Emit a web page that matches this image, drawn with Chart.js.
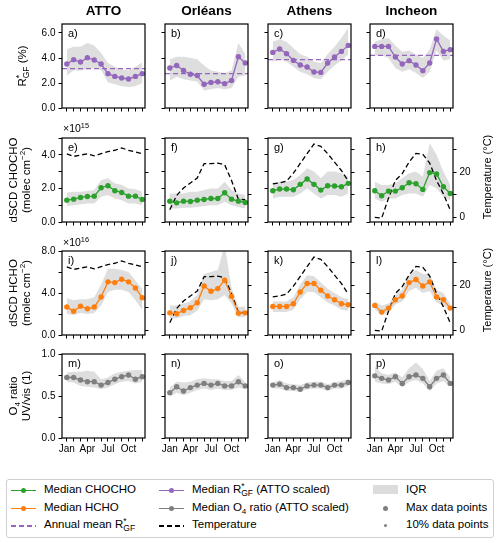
<!DOCTYPE html>
<html>
<head>
<meta charset="utf-8">
<script src="https://cdn.jsdelivr.net/npm/chart.js@4.4.1/dist/chart.umd.min.js"></script>
<style>
  body { margin: 0; width: 500px; height: 543px; position: relative; background: #fff; overflow: hidden;
         font-family: "Liberation Sans", Arial, sans-serif; color: #000; }
  .panel { position: absolute; }
  .txt { position: absolute; white-space: nowrap; }
  .rot { position: absolute; white-space: nowrap; text-align: center; font-size: 11.5px; line-height: 13px;
         transform: translate(-50%, -50%) rotate(-90deg); }
  sup, sub { font-size: 70%; line-height: 0; }
  .legend { position: absolute; left: 6px; top: 479px; width: 486px; height: 57px; border: 1px solid #d0d0d0;
            border-radius: 3px; font-size: 11.5px; }
  .lg { position: absolute; height: 16px; }
  .lg .h { position: absolute; left: 0; top: 8px; width: 25px; }
  .lg .t { position: absolute; left: 33px; top: 1px; white-space: nowrap; }
</style>
</head>
<body>
<script>
// months and ticks
const months = [1, 2, 3, 4, 5, 6, 7, 8, 9, 10, 11, 12];
const monthLabels = { 1: 'Jan', 4: 'Apr', 7: 'Jul', 10: 'Oct' };
const sites = ['ATTO', 'Orléans', 'Athens', 'Incheon'];

// R*GF (%)
const rgfAtto = [3.52, 3.87, 3.68, 4.03, 3.84, 3.52, 2.75, 2.53, 2.40, 2.32, 2.53, 2.75];
const rgfAttoHi = [4.7, 4.9, 4.9, 5.2, 5.0, 4.4, 3.6, 3.3, 3.1, 3.0, 3.3, 3.65];
const rgfAttoLo = [2.6, 3.0, 3.0, 3.1, 3.2, 3.05, 2.05, 1.9, 1.75, 1.68, 1.75, 2.0];
const rgfOrleans = [3.2, 3.4, 3.0, 2.7, 2.6, 1.9, 2.05, 2.1, 1.95, 2.2, 4.1, 3.6];
const rgfOrleansHi = [3.9, 4.1, 4.1, 4.0, 3.9, 3.4, 3.0, 2.9, 2.8, 3.0, 5.2, 4.3];
const rgfOrleansLo = [2.2, 2.5, 2.3, 2.2, 2.1, 1.4, 1.5, 1.6, 1.5, 1.6, 2.5, 2.6];
const rgfAthens = [4.45, 4.72, 4.35, 3.81, 3.44, 3.28, 2.88, 2.85, 3.6, 4.08, 4.53, 5.01];
const rgfAthensHi = [5.3, 5.5, 5.3, 4.8, 4.3, 4.1, 3.7, 3.6, 4.3, 4.9, 5.6, 6.4];
const rgfAthensLo = [3.7, 3.9, 3.7, 3.3, 2.9, 2.7, 2.4, 2.3, 2.9, 3.4, 3.8, 4.3];
const rgfIncheon = [4.93, 4.93, 4.93, 4.08, 3.52, 3.79, 3.44, 2.99, 3.6, 5.52, 4.53, 4.67];
const rgfIncheonHi = [5.3, 5.5, 5.6, 5.0, 4.5, 4.6, 4.3, 4.0, 4.7, 6.3, 5.8, 5.4];
const rgfIncheonLo = [4.2, 4.2, 4.0, 3.2, 2.9, 3.1, 2.8, 2.4, 2.9, 4.6, 3.8, 3.9];
const rgfMeans = [3.15, 2.75, 3.87, 4.21];

// dSCD CHOCHO (x1e15 molec cm-2)
const glyAtto = [1.30, 1.36, 1.46, 1.52, 1.54, 2.04, 2.16, 1.86, 1.76, 1.54, 1.54, 1.34];
const glyAttoHi = [1.75, 1.8, 1.8, 1.85, 1.9, 2.5, 2.6, 2.3, 2.2, 2.0, 1.95, 1.8];
const glyAttoLo = [0.95, 1.0, 1.05, 1.1, 1.1, 1.5, 1.6, 1.4, 1.3, 1.1, 1.1, 1.0];
const glyOrleans = [1.24, 1.14, 1.24, 1.22, 1.30, 1.34, 1.40, 1.40, 1.74, 1.36, 1.24, 1.16];
const glyOrleansHi = [1.7, 1.7, 1.7, 1.8, 1.8, 1.9, 2.0, 2.0, 2.4, 1.9, 1.7, 1.6];
const glyOrleansLo = [0.8, 0.8, 0.85, 0.85, 0.9, 0.95, 1.0, 1.0, 1.2, 1.0, 0.9, 0.8];
const glyAthens = [1.86, 1.96, 1.96, 1.92, 2.24, 2.56, 2.24, 1.90, 2.16, 2.14, 2.10, 2.30];
const glyAthensHi = [2.3, 2.4, 2.4, 2.5, 2.8, 3.2, 3.0, 2.6, 3.0, 3.0, 2.9, 2.7];
const glyAthensLo = [1.4, 1.5, 1.5, 1.5, 1.7, 2.0, 1.7, 1.4, 1.6, 1.6, 1.5, 1.7];
const glyIncheon = [1.86, 1.56, 1.84, 1.84, 2.04, 2.34, 2.28, 1.94, 2.94, 2.86, 2.10, 1.70];
const glyIncheonHi = [2.4, 2.2, 2.2, 2.3, 2.6, 2.9, 3.0, 2.7, 4.7, 4.0, 3.0, 2.2];
const glyIncheonLo = [1.4, 1.2, 1.4, 1.4, 1.6, 1.7, 1.7, 1.5, 2.2, 2.0, 1.5, 1.3];

// dSCD HCHO (x1e16 molec cm-2)
const hchoAtto = [2.66, 2.27, 2.75, 2.50, 2.66, 3.62, 5.06, 4.99, 5.31, 5.06, 4.48, 3.55];
const hchoAttoHi = [3.5, 3.3, 3.4, 3.4, 3.6, 4.8, 6.3, 6.3, 6.2, 6.0, 5.2, 4.4];
const hchoAttoLo = [2.0, 1.9, 2.1, 2.0, 2.1, 2.8, 4.1, 4.3, 4.3, 4.1, 3.3, 2.4];
const hchoOrleans = [2.11, 2.02, 2.34, 2.59, 3.07, 4.67, 4.16, 4.42, 5.22, 3.68, 2.08, 2.11];
const hchoOrleansHi = [2.8, 2.8, 3.0, 3.2, 3.8, 5.8, 6.0, 6.2, 8.6, 4.5, 2.7, 2.7];
const hchoOrleansLo = [1.6, 1.6, 1.8, 1.9, 2.3, 3.4, 3.3, 3.4, 3.8, 3.0, 1.7, 1.7];
const hchoAthens = [2.72, 2.72, 2.72, 2.98, 4.10, 4.90, 4.90, 4.26, 3.71, 3.36, 2.98, 2.88];
const hchoAthensHi = [3.2, 3.2, 3.2, 3.6, 4.8, 5.7, 5.6, 5.0, 4.4, 4.0, 3.6, 3.4];
const hchoAthensLo = [2.2, 2.2, 2.2, 2.4, 3.4, 4.1, 4.1, 3.6, 3.1, 2.8, 2.4, 2.3];
const hchoIncheon = [2.82, 2.18, 2.56, 3.36, 3.71, 4.99, 5.28, 4.67, 5.06, 3.62, 3.36, 2.56];
const hchoIncheonHi = [3.2, 2.8, 3.0, 3.8, 4.3, 5.7, 6.2, 5.8, 5.8, 4.3, 4.0, 3.0];
const hchoIncheonLo = [2.4, 1.9, 2.1, 2.9, 3.2, 4.2, 4.5, 4.0, 4.2, 3.1, 2.8, 2.2];

// O4 ratio UV/vis
const o4Atto = [0.72, 0.72, 0.69, 0.67, 0.67, 0.63, 0.66, 0.70, 0.73, 0.75, 0.70, 0.73];
const o4AttoHi = [0.78, 0.79, 0.79, 0.80, 0.79, 0.70, 0.72, 0.77, 0.79, 0.80, 0.81, 0.81];
const o4AttoLo = [0.67, 0.66, 0.62, 0.61, 0.60, 0.58, 0.60, 0.64, 0.67, 0.68, 0.65, 0.67];
const o4Orleans = [0.54, 0.61, 0.56, 0.60, 0.63, 0.65, 0.63, 0.65, 0.62, 0.62, 0.67, 0.62];
const o4OrleansHi = [0.60, 0.67, 0.66, 0.67, 0.70, 0.71, 0.70, 0.70, 0.68, 0.68, 0.75, 0.66];
const o4OrleansLo = [0.49, 0.54, 0.51, 0.54, 0.57, 0.59, 0.57, 0.59, 0.57, 0.57, 0.60, 0.58];
const o4Athens = [0.63, 0.64, 0.60, 0.60, 0.58, 0.62, 0.63, 0.63, 0.60, 0.63, 0.63, 0.66];
const o4AthensHi = [0.66, 0.69, 0.65, 0.64, 0.63, 0.66, 0.67, 0.67, 0.64, 0.66, 0.68, 0.70];
const o4AthensLo = [0.59, 0.59, 0.56, 0.56, 0.55, 0.58, 0.59, 0.59, 0.56, 0.59, 0.59, 0.62];
const o4Incheon = [0.74, 0.71, 0.69, 0.73, 0.65, 0.73, 0.75, 0.71, 0.61, 0.71, 0.75, 0.65];
const o4IncheonHi = [0.85, 0.77, 0.75, 0.78, 0.72, 0.83, 0.90, 0.82, 0.68, 0.80, 0.83, 0.72];
const o4IncheonLo = [0.67, 0.65, 0.64, 0.67, 0.60, 0.67, 0.69, 0.65, 0.56, 0.65, 0.68, 0.61];

// temperature (°C)
const tempAtto = [28.0, 26.9, 27.5, 28.0, 27.1, 28.1, 29.0, 29.6, 30.6, 29.6, 28.9, 28.0];
const tempOrleans = [3.4, 9.7, 13.0, 15.2, 17.4, 23.7, 23.7, 23.9, 23.2, 16.3, 8.0, 7.8];
const tempAthens = [14.8, 15.2, 16.0, 19.5, 23.8, 28.1, 32.3, 31.3, 28.1, 24.4, 20.7, 16.0];
const tempIncheon = [0.0, -0.3, 8.5, 16.3, 19.3, 24.4, 28.2, 27.8, 24.0, 16.3, 10.4, 3.3];

const C_GREEN = '#2ca02c', C_ORANGE = '#ff7f0e', C_PURPLE = '#9467bd', C_GRAY = '#7f7f7f';
const C_BAND = 'rgba(190,190,190,0.5)';
const FONT = '"Liberation Sans", Arial, sans-serif';

const colLeft = [62, 165, 268, 370];
const rowTop = [24, 138, 251, 354];
const panelW = 83, panelH = 84;
const PAD_L = 45, PAD_R = 30, PAD_T = 10, PAD_B = 20;
const X_MIN = 0.3, X_MAX = 12.4;

const rows = [
  { color: C_PURPLE, max: 6.72, ticks: [0, 1, 2, 3, 4, 5, 6], labels: [0, 2, 4, 6], dec: 1, temp: null,
    med: [rgfAtto, rgfOrleans, rgfAthens, rgfIncheon], hi: [rgfAttoHi, rgfOrleansHi, rgfAthensHi, rgfIncheonHi],
    lo: [rgfAttoLo, rgfOrleansLo, rgfAthensLo, rgfIncheonLo], mean: rgfMeans },
  { color: C_GREEN, max: 5, ticks: [0, 1, 2, 3, 4, 5], labels: [0, 2, 4], dec: 1,
    temp: [tempAtto, tempOrleans, tempAthens, tempIncheon],
    med: [glyAtto, glyOrleans, glyAthens, glyIncheon], hi: [glyAttoHi, glyOrleansHi, glyAthensHi, glyIncheonHi],
    lo: [glyAttoLo, glyOrleansLo, glyAthensLo, glyIncheonLo] },
  { color: C_ORANGE, max: 8, ticks: [0, 2, 4, 6, 8], labels: [0, 4, 8], dec: 1,
    temp: [tempAtto, tempOrleans, tempAthens, tempIncheon],
    med: [hchoAtto, hchoOrleans, hchoAthens, hchoIncheon], hi: [hchoAttoHi, hchoOrleansHi, hchoAthensHi, hchoIncheonHi],
    lo: [hchoAttoLo, hchoOrleansLo, hchoAthensLo, hchoIncheonLo] },
  { color: C_GRAY, max: 1, ticks: [0, 0.25, 0.5, 0.75, 1], labels: [0, 0.5, 1], dec: 1, temp: null,
    med: [o4Atto, o4Orleans, o4Athens, o4Incheon], hi: [o4AttoHi, o4OrleansHi, o4AthensHi, o4IncheonHi],
    lo: [o4AttoLo, o4OrleansLo, o4AthensLo, o4IncheonLo] }
];

function serie(arr) {
  return months.map((m, i) => ({ x: m, y: arr[i] }));
}

const framePlugin = {
  id: 'frame',
  afterDraw(chart) {
    const a = chart.chartArea, ctx = chart.ctx;
    ctx.save();
    ctx.strokeStyle = '#000';
    ctx.lineWidth = 1.2;
    ctx.strokeRect(a.left, a.top, a.right - a.left, a.bottom - a.top);
    ctx.restore();
  }
};

function tickGrid() {
  return { display: true, drawOnChartArea: false, drawTicks: true, tickLength: 3.5, tickColor: '#000', tickWidth: 1 };
}

function crearPanel(r, c) {
  const row = rows[r];
  const div = document.createElement('div');
  div.className = 'panel';
  div.style.left = (colLeft[c] - PAD_L) + 'px';
  div.style.top = (rowTop[r] - PAD_T) + 'px';
  div.style.width = (panelW + PAD_L + PAD_R) + 'px';
  div.style.height = (panelH + PAD_T + PAD_B) + 'px';
  const canvas = document.createElement('canvas');
  div.appendChild(canvas);
  document.body.appendChild(div);

  const datasets = [{
    data: serie(row.med[c]), borderColor: row.color, backgroundColor: row.color, borderWidth: 1.3,
    pointRadius: 2.7, pointBorderWidth: 0, pointBackgroundColor: row.color, fill: false, yAxisID: 'y'
  }];
  if (row.mean) {
    datasets.push({
      data: [{ x: X_MIN, y: row.mean[c] }, { x: X_MAX, y: row.mean[c] }], borderColor: C_PURPLE,
      borderWidth: 1.3, borderDash: [5, 3], pointRadius: 0, fill: false, yAxisID: 'y'
    });
  }
  if (row.temp) {
    datasets.push({
      data: serie(row.temp[c]), borderColor: '#000', borderWidth: 1.3, borderDash: [5, 3],
      pointRadius: 0, fill: false, yAxisID: 'y1'
    });
  }
  datasets.push({ data: serie(row.hi[c]), borderWidth: 0, pointRadius: 0, fill: false, yAxisID: 'y' });
  datasets.push({
    data: serie(row.lo[c]), borderWidth: 0, pointRadius: 0, fill: '-1', backgroundColor: C_BAND, yAxisID: 'y'
  });

  const tickFont = { family: FONT, size: 10 };
  const scales = {
    x: {
      type: 'linear', min: X_MIN, max: X_MAX, position: 'bottom',
      afterBuildTicks: s => { s.ticks = months.map(v => ({ value: v })); },
      afterFit: s => { s.height = PAD_B; },
      ticks: {
        autoSkip: false, maxRotation: 0, padding: 2, color: '#000', font: tickFont,
        callback: v => (r === 3 ? (monthLabels[v] || '') : '')
      },
      grid: tickGrid(), border: { display: false }
    },
    y: {
      type: 'linear', min: 0, max: row.max, position: 'left',
      afterBuildTicks: s => { s.ticks = row.ticks.map(v => ({ value: v })); },
      afterFit: s => { s.width = PAD_L; },
      ticks: {
        padding: 3, color: '#000', font: tickFont,
        callback: v => (c === 0 && row.labels.includes(v) ? v.toFixed(row.dec) : '')
      },
      grid: tickGrid(), border: { display: false }
    }
  };
  if (row.temp) {
    scales.y1 = {
      type: 'linear', min: -2, max: 35, position: 'right',
      afterBuildTicks: s => { s.ticks = [0, 10, 20, 30].map(v => ({ value: v })); },
      afterFit: s => { s.width = PAD_R; },
      ticks: {
        padding: 3, color: '#000', font: tickFont,
        callback: v => (c === 3 && (v === 0 || v === 20) ? String(v) : '')
      },
      grid: tickGrid(), border: { display: false }
    };
  }

  new Chart(canvas.getContext('2d'), {
    type: 'line',
    data: { datasets },
    options: {
      responsive: true, maintainAspectRatio: false, animation: false,
      layout: { padding: { top: PAD_T, right: row.temp ? 0 : PAD_R, left: 0, bottom: 0 } },
      plugins: { legend: { display: false }, tooltip: { enabled: false } },
      scales
    },
    plugins: [framePlugin]
  });
}

function texto(html, x, y, style) {
  const d = document.createElement('div');
  d.className = 'txt';
  d.innerHTML = html;
  d.style.left = x + 'px';
  d.style.top = y + 'px';
  Object.assign(d.style, style || {});
  document.body.appendChild(d);
  return d;
}

function rotado(html, x, y, size) {
  const d = document.createElement('div');
  d.className = 'rot';
  d.innerHTML = html;
  d.style.left = x + 'px';
  d.style.top = y + 'px';
  if (size) d.style.fontSize = size;
  document.body.appendChild(d);
}

for (let r = 0; r < 4; r++) {
  for (let c = 0; c < 4; c++) {
    crearPanel(r, c);
    const letra = 'abcdefghijklmnop'[r * 4 + c] + ')';
    texto(letra, colLeft[c] + 6, rowTop[r] + 3, { fontSize: '11px' });
  }
}

sites.forEach((s, c) => {
  const d = texto(s, colLeft[c] + panelW / 2, 3, { fontSize: '13.5px', fontWeight: 'bold' });
  d.style.transform = 'translateX(-50%)';
});

const rgfHtml = 'R<span style="display:inline-block;vertical-align:-3px;line-height:7px;font-size:8.5px;text-align:left">*<br>GF</span>';
rotado(rgfHtml + ' (%)', 23, rowTop[0] + panelH / 2);
rotado('dSCD CHOCHO<br>(molec cm<sup>\u22122</sup>)', 20, rowTop[1] + panelH / 2);
rotado('dSCD HCHO<br>(molec cm<sup>\u22122</sup>)', 20, rowTop[2] + panelH / 2);
rotado('O<sub>4</sub> ratio<br>UV/vis (1)', 20, rowTop[3] + panelH / 2);
rotado('Temperature (\u00b0C)', 487, rowTop[1] + panelH / 2 - 3, '11px');
rotado('Temperature (\u00b0C)', 487, rowTop[2] + panelH / 2 - 3, '11px');
texto('\u00d710<sup>15</sup>', 63, 122, { fontSize: '10.5px' });
texto('\u00d710<sup>16</sup>', 63, 236, { fontSize: '10.5px' });

// leyenda
const leg = document.createElement('div');
leg.className = 'legend';
document.body.appendChild(leg);
const legCol = [4, 152, 366];
const legRow = [2, 19.5, 37];
const legendItems = [
  { c: 0, r: 0, kind: 'linedot', color: C_GREEN, html: 'Median CHOCHO' },
  { c: 0, r: 1, kind: 'linedot', color: C_ORANGE, html: 'Median HCHO' },
  { c: 0, r: 2, kind: 'dash', color: C_PURPLE, html: 'Annual mean ' + rgfHtml },
  { c: 1, r: 0, kind: 'linedot', color: C_PURPLE, html: 'Median ' + rgfHtml + ' (ATTO scaled)' },
  { c: 1, r: 1, kind: 'linedot', color: C_GRAY, html: 'Median O<sub>4</sub> ratio (ATTO scaled)' },
  { c: 1, r: 2, kind: 'dash', color: '#000', html: 'Temperature' },
  { c: 2, r: 0, kind: 'patch', color: '#dcdcdc', html: 'IQR' },
  { c: 2, r: 1, kind: 'dot', color: C_GRAY, size: 5, html: 'Max data points' },
  { c: 2, r: 2, kind: 'dot', color: C_GRAY, size: 3.5, html: '10% data points' }
];
legendItems.forEach(it => {
  const d = document.createElement('div');
  d.className = 'lg';
  d.style.left = legCol[it.c] + 'px';
  d.style.top = legRow[it.r] + 'px';
  let h = '';
  if (it.kind === 'linedot') {
    h = `<div class="h" style="border-top:1.5px solid ${it.color}"></div>` +
        `<div style="position:absolute;left:10px;top:6px;width:5px;height:5px;border-radius:50%;background:${it.color}"></div>`;
  } else if (it.kind === 'dash') {
    h = `<div class="h" style="height:1.5px;background:repeating-linear-gradient(90deg, ${it.color} 0 5px, transparent 5px 8px)"></div>`;
  } else if (it.kind === 'patch') {
    h = `<div style="position:absolute;left:0;top:3px;width:25px;height:9px;background:${it.color}"></div>`;
  } else {
    h = `<div style="position:absolute;left:${12.5 - it.size / 2}px;top:${8.5 - it.size / 2}px;width:${it.size}px;height:${it.size}px;border-radius:50%;background:${it.color}"></div>`;
  }
  d.innerHTML = h + `<div class="t">${it.html}</div>`;
  leg.appendChild(d);
});
</script>
</body>
</html>
